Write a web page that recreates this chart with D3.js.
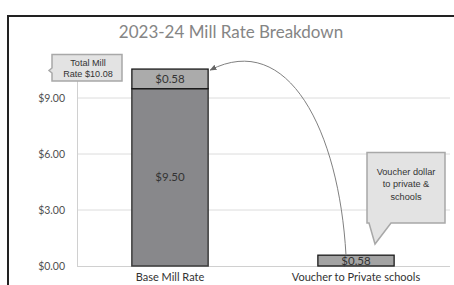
<!DOCTYPE html>
<html>
<head>
<meta charset="utf-8">
<script src="https://cdn.jsdelivr.net/npm/d3@7"></script>
<style>
  body { margin: 0; background: #fff; }
  svg { display: block; }
</style>
</head>
<body>
<script>
// data
var categories = ["Base Mill Rate", "Voucher to Private schools"];
var baseValues = [9.50, 0];          // lower segment
var topValues = [1.05, 0.58];        // upper segment as drawn
var baseLabels = ["$9.50", ""];
var topLabels = ["$0.58", "$0.58"];
var yTicks = [0, 3, 6, 9];
var title = "2023-24 Mill Rate Breakdown";
var totalNote = ["Total Mill", "Rate $10.08"];
var voucherNote = ["Voucher dollar", "to private &", "schools"];

var W = 454, H = 285;
var svg = d3.select("body").append("svg")
            .attr("width", W)
            .attr("height", H);

// chart frame (runs off right and bottom)
svg.append("rect")
   .attr("x", 8).attr("y", 16)
   .attr("width", W).attr("height", H)
   .attr("fill", "#fff")
   .attr("stroke", "#222")
   .attr("stroke-width", 2);

svg.append("text")
   .attr("x", 231).attr("y", 38)
   .attr("text-anchor", "middle")
   .attr("font-family", "Lato, 'Open Sans', sans-serif")
   .attr("font-size", 17)
   .attr("fill", "#858585")
   .text(title);

var x = d3.scaleBand()
          .domain(categories)
          .range([77, 449])
          .paddingInner(0.59)
          .paddingOuter(0.295);

var y = d3.scaleLinear()
          .domain([0, 10.8])
          .range([266, 64.4]);

// gridlines
svg.append("g").selectAll("line")
   .data(yTicks.filter(function(d){ return d > 0; }))
   .enter().append("line")
   .attr("x1", 77).attr("x2", 450)
   .attr("y1", function(d){ return y(d); })
   .attr("y2", function(d){ return y(d); })
   .attr("stroke", "#dcdcdc");

// y axis
var yAxis = d3.axisLeft(y)
              .tickValues(yTicks)
              .tickSize(0)
              .tickPadding(12)
              .tickFormat(function(d){ return "$" + d3.format(".2f")(d); });
var gy = svg.append("g").attr("transform", "translate(77,0)").call(yAxis);
gy.select(".domain").attr("stroke", "#d0d0d0");
gy.selectAll("text")
  .attr("font-family", "Lato, 'Open Sans', sans-serif")
  .attr("font-size", 10.5)
  .attr("fill", "#505050");

// x axis baseline + labels
var xAxis = d3.axisBottom(x).tickSize(0).tickPadding(7);
var gx = svg.append("g").attr("transform", "translate(0," + y(0) + ")").call(xAxis);
gx.select(".domain").attr("stroke", "#d0d0d0").attr("d", "M77,0.5H450");
gx.selectAll("text")
  .attr("font-family", "Lato, 'Open Sans', sans-serif")
  .attr("font-size", 11)
  .attr("fill", "#333");

// lower segments
svg.append("g").selectAll("rect")
   .data(categories.filter(function(d, i){ return baseValues[i] > 0; }))
   .enter().append("rect")
   .attr("x", function(d){ return x(d); })
   .attr("width", x.bandwidth())
   .attr("y", function(d){ return y(baseValues[categories.indexOf(d)]); })
   .attr("height", function(d){ return y(0) - y(baseValues[categories.indexOf(d)]); })
   .attr("fill", "#88888b")
   .attr("stroke", "#3c3c3c")
   .attr("stroke-width", 1.5);

// upper segments
svg.append("g").selectAll("rect")
   .data(categories)
   .enter().append("rect")
   .attr("x", function(d){ return x(d); })
   .attr("width", x.bandwidth())
   .attr("y", function(d, i){ return y(baseValues[i] + topValues[i]); })
   .attr("height", function(d, i){ return y(baseValues[i]) - y(baseValues[i] + topValues[i]); })
   .attr("fill", function(d, i){ return i === 0 ? "#ababab" : "#a3a3a3"; })
   .attr("stroke", "#1a1a1a")
   .attr("stroke-width", 1.3);

// segment labels
var labFont = "Lato, 'Open Sans', sans-serif";
svg.append("g").selectAll("text")
   .data(categories)
   .enter().append("text")
   .attr("x", function(d){ return x(d) + x.bandwidth() / 2; })
   .attr("y", function(d, i){ return y(baseValues[i] + topValues[i] / 2) + 4; })
   .attr("text-anchor", "middle")
   .attr("font-family", labFont)
   .attr("font-size", 11.5)
   .attr("fill", "#333")
   .text(function(d, i){ return topLabels[i]; });

svg.append("g").selectAll("text")
   .data(categories.filter(function(d, i){ return baseValues[i] > 0; }))
   .enter().append("text")
   .attr("x", function(d){ return x(d) + x.bandwidth() / 2; })
   .attr("y", function(d){ return y(baseValues[categories.indexOf(d)] / 2) + 4; })
   .attr("text-anchor", "middle")
   .attr("font-family", labFont)
   .attr("font-size", 11.5)
   .attr("fill", "#333")
   .text(function(d){ return baseLabels[categories.indexOf(d)]; });

// curved arrow from voucher bar to top of base bar
svg.append("defs").append("marker")
   .attr("id", "head")
   .attr("viewBox", "0 0 10 10")
   .attr("refX", 9).attr("refY", 5)
   .attr("markerWidth", 7).attr("markerHeight", 7)
   .attr("orient", "auto")
   .append("path")
   .attr("d", "M0,1L10,5L0,9z")
   .attr("fill", "#666");

var sx = x(categories[1]) + x.bandwidth() / 2 - 10,
    sy = y(topValues[1]),
    ex = x(categories[0]) + x.bandwidth() + 2,
    ey = y(baseValues[0] + topValues[0]) + 1;
var arc = d3.path();
arc.moveTo(sx, sy);
arc.bezierCurveTo(sx - 7, sy - 125, sx - 58, sy - 225, ex, ey);
svg.append("path")
   .attr("d", arc.toString())
   .attr("fill", "none")
   .attr("stroke", "#808080")
   .attr("stroke-width", 1)
   .attr("marker-end", "url(#head)");

// callout: total mill rate
var noteFont = "'Liberation Sans', Arial, sans-serif";
svg.append("path")
   .attr("d", "M52,54.5H122V81H52V73L49,70.5L52,68Z")
   .attr("fill", "#e3e3e3")
   .attr("stroke", "#a8a8a8")
   .attr("stroke-width", 1.5);
svg.append("g").selectAll("text")
   .data(totalNote)
   .enter().append("text")
   .attr("x", 88)
   .attr("y", function(d, i){ return 65.5 + i * 11.5; })
   .attr("text-anchor", "middle")
   .attr("font-family", noteFont)
   .attr("font-size", 9.1)
   .attr("fill", "#333")
   .text(function(d){ return d; });

// callout: voucher
svg.append("path")
   .attr("d", "M367,152.5H445V223H391L375,244L369,223H367Z")
   .attr("fill", "#e3e3e3")
   .attr("stroke", "#a8a8a8")
   .attr("stroke-width", 1.5);
svg.append("g").selectAll("text")
   .data(voucherNote)
   .enter().append("text")
   .attr("x", 406)
   .attr("y", function(d, i){ return 174.5 + i * 12.5; })
   .attr("text-anchor", "middle")
   .attr("font-family", noteFont)
   .attr("font-size", 9.2)
   .attr("fill", "#333")
   .text(function(d){ return d; });
</script>
</body>
</html>
